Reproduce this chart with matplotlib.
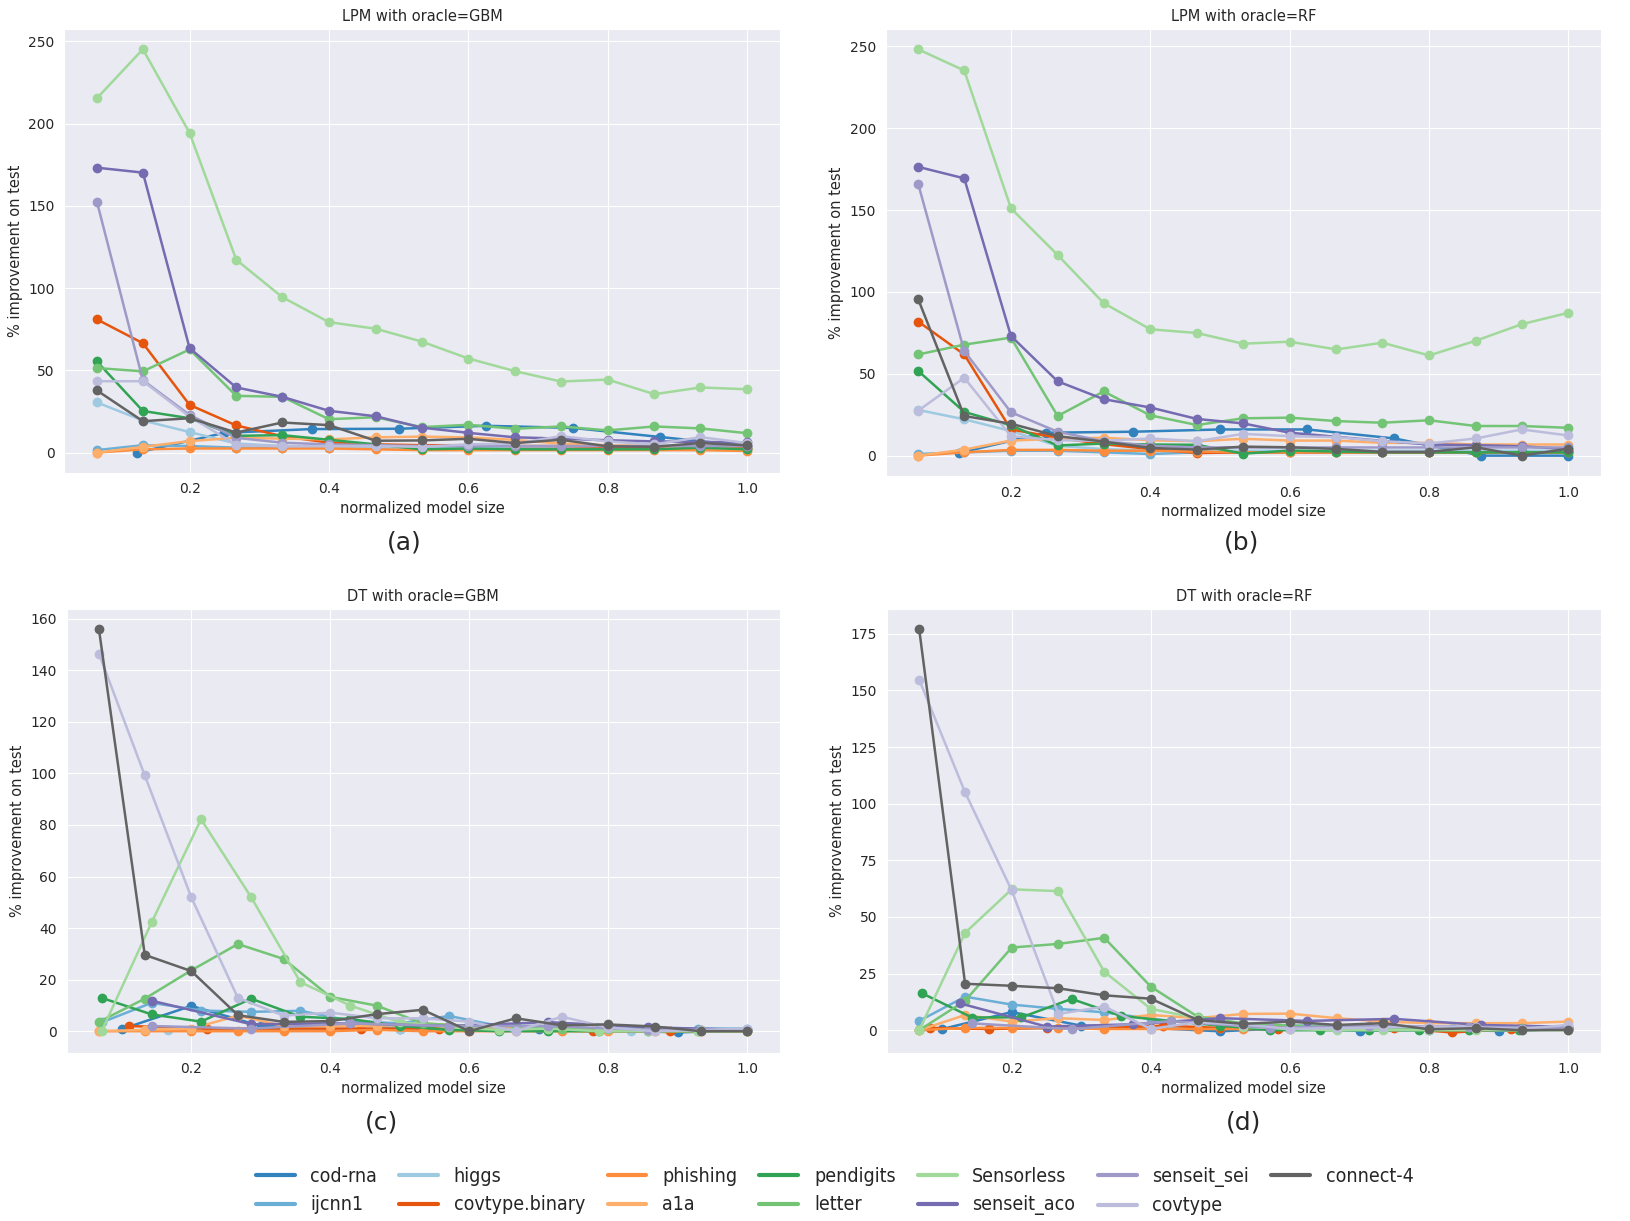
import matplotlib
matplotlib.use('Agg')
import matplotlib.pyplot as plt
from matplotlib.lines import Line2D
import seaborn as sns

sns.set_style('darkgrid')
plt.rcParams['font.family'] = ['DejaVu Sans']

# x grids (normalized model size) used by the different datasets
X15 = [0.067, 0.133, 0.2, 0.267, 0.333, 0.4, 0.467, 0.533, 0.6, 0.667, 0.733, 0.8, 0.867, 0.933, 1.0]
X14 = [0.071, 0.143, 0.214, 0.286, 0.357, 0.429, 0.5, 0.571, 0.643, 0.714, 0.786, 0.857, 0.929, 1.0]
X12 = [0.083, 0.167, 0.25, 0.333, 0.417, 0.5, 0.583, 0.667, 0.75, 0.833, 0.917, 1.0]
X10 = [0.1, 0.2, 0.3, 0.4, 0.5, 0.6, 0.7, 0.8, 0.9, 1.0]
X9 = [0.111, 0.222, 0.333, 0.444, 0.556, 0.667, 0.778, 0.889, 1.0]
X8 = [0.125, 0.25, 0.375, 0.5, 0.625, 0.75, 0.875, 1.0]
X7 = [0.143, 0.286, 0.429, 0.571, 0.714, 0.857, 1.0]
X6 = [0.167, 0.333, 0.5, 0.667, 0.833, 1.0]

DATASETS = ['cod-rna', 'ijcnn1', 'higgs', 'covtype.binary', 'phishing', 'a1a', 'pendigits',
            'letter', 'Sensorless', 'senseit_aco', 'senseit_sei', 'covtype', 'connect-4']
COLORS = ['#3182bd', '#6baed6', '#9ecae1', '#e6550d', '#fd8d3c', '#fdae6b', '#31a354',
          '#74c476', '#a1d99b', '#756bb1', '#9e9ac8', '#bcbddc', '#636363']

# (a) LPM with oracle=GBM
LPM_GBM = {
    'cod-rna': (X8, [0.0, 12, 14.3, 14.5, 16.3, 15, 9.5, 4]),
    'ijcnn1': (X15, [1.5, 4.5, 4, 3, 3, 3, 3, 3, 3, 3, 3, 3, 2.5, 2.5, 2.5]),
    'higgs': (X15, [30.5, 19.5, 12.5, 5.5, 4, 3.5, 3, 3, 3, 3, 3, 3, 3, 3, 3]),
    'covtype.binary': (X15, [81, 66.5, 29, 16.5, 10, 6, 5, 4.5, 4.5, 4, 4, 3.5, 3, 3, 3]),
    'phishing': (X15, [0, 2, 2.5, 2.5, 2.5, 2.5, 2, 1.5, 1.5, 1.5, 1.5, 1.5, 1.5, 1.5, 1]),
    'a1a': (X15, [0, 3.5, 7, 9, 8.5, 8, 9.3, 9.7, 9.3, 7.7, 5.5, 4.5, 4, 3, 2]),
    'pendigits': (X15, [55.4, 25.3, 20.9, 10.2, 10.6, 7.8, 5, 2, 2.5, 2, 2, 2, 2, 3, 2]),
    'letter': (X15, [51.4, 49.4, 62.7, 34.5, 33.9, 20.3, 21.5, 15.5, 16.9, 14.5, 15.9, 13.5, 15.9, 14.7, 11.8]),
    'Sensorless': (X15, [215.4, 245.2, 194.3, 117.2, 94.5, 79.3, 75.3, 67.5, 57.2, 49.5, 43.2, 44.4, 35.5, 39.6, 38.5]),
    'senseit_aco': (X15, [173.2, 170.2, 63.5, 39.6, 33.9, 25.4, 22.1, 15.2, 12.0, 9.3, 8.5, 7.5, 6.8, 6.5, 6.2]),
    'senseit_sei': (X15, [152.5, 44, 22.9, 9, 6, 5, 4.5, 4, 4, 4, 4, 4, 4, 4, 4]),
    'covtype': (X15, [43.4, 43.4, 21.9, 4.8, 3.8, 4, 4, 3.5, 5, 5.5, 10, 6.8, 5, 9.4, 5.8]),
    'connect-4': (X15, [37.8, 19.1, 20.9, 12.2, 18.3, 16.7, 7.2, 7.4, 8.4, 5.8, 7.8, 3.8, 3.6, 5.8, 4.4]),
}

# (b) LPM with oracle=RF
LPM_RF = {
    'cod-rna': (X8, [1.6, 14, 14.6, 16, 16, 10.5, 0, 0]),
    'ijcnn1': (X15, [1, 2, 3, 3, 2, 1, 2, 2, 2, 2, 2, 2, 2, 2, 2]),
    'higgs': (X15, [27.9, 22.2, 15, 6, 4, 3, 3, 3, 3, 3, 3, 3, 3, 3, 3]),
    'covtype.binary': (X15, [81.9, 61.8, 16, 10.9, 7, 4, 1.6, 2, 2, 2, 2, 2, 2, 2, 2]),
    'phishing': (X15, [0, 2, 3.5, 3.5, 3, 3, 2.5, 2, 2, 2, 2, 2, 2, 2, 2]),
    'a1a': (X15, [0, 3.7, 9.2, 10.3, 10.9, 9.4, 8.8, 10.3, 9.2, 9.2, 7.8, 7.8, 6.8, 6.8, 6.8]),
    'pendigits': (X15, [51.7, 26.7, 18.5, 6.2, 7.4, 6.8, 6.6, 1.2, 3.1, 2.5, 2, 2, 2, 2, 2]),
    'letter': (X15, [61.8, 67.8, 72.1, 24.2, 39.2, 24.6, 18.7, 22.8, 23.2, 21.1, 20.1, 21.6, 18.1, 18.1, 17.0]),
    'Sensorless': (X15, [248.2, 235.3, 151.1, 122.6, 93.2, 77.2, 74.9, 68.4, 69.6, 64.9, 69.0, 61.2, 70.2, 80.3, 87.3]),
    'senseit_aco': (X15, [176.4, 169.4, 73.1, 45.4, 34.5, 29.4, 22.4, 19.7, 14, 11.5, 9, 6.8, 6.4, 5.7, 4]),
    'senseit_sei': (X15, [165.9, 63.9, 26.5, 14.6, 8.8, 6, 5, 5, 5, 5, 5, 5, 5, 5, 5]),
    'covtype': (X15, [27.5, 47.6, 11.9, 9.4, 9, 10.5, 8.8, 13.3, 11.9, 11.3, 8.8, 7.4, 10.5, 16, 12.3]),
    'connect-4': (X15, [95.5, 24.2, 19.5, 11.9, 8.6, 4.7, 3.7, 5.5, 5.1, 4.1, 2.3, 2.3, 5.1, 0, 4.3]),
}

# (c) DT with oracle=GBM
DT_GBM = {
    'cod-rna': (X10, [0.8, 9.8, 2, 3, 1, 2, 1, 0.5, -0.5, 0.5]),
    'ijcnn1': (X14, [3.4, 11, 8, 7.5, 7.9, 4, 3, 5.9, 2, 2, 1, 1, 1, 1]),
    'higgs': (X6, [0.5, 1, 1, 1, 0, 0.5]),
    'covtype.binary': (X9, [2, 1, 1, 1, 1, 0.5, 0, 0, 0]),
    'phishing': (X15, [0, 0, 0, 0, 0, 0, 0.5, 0, 0, 0, 0, 0, 0, 0, 0]),
    'a1a': (X15, [0, 0.5, 1, 6, 2, 2, 2, 3, 2, 1, 1, 0.5, 0.5, 0.5, 0.5]),
    'pendigits': (X14, [12.9, 6.5, 3.7, 12.6, 5.6, 4.7, 2, 0.5, 0, 0, 0, 0, 0, 0]),
    'letter': (X15, [3.6, 12.6, 23.6, 33.8, 28, 13.3, 9.9, 3, 2, 2, 1, 1, 0.5, 0.5, 0.5]),
    'Sensorless': (X14, [0, 42.3, 82.2, 52, 19, 9.9, 3.5, 1.5, 0.5, 1, 0, 0, 0, 0]),
    'senseit_aco': (X7, [11.8, 2.7, 3, 2, 3.5, 1.5, 0.5]),
    'senseit_sei': (X7, [2, 1, 3, 2, 2, 0.5, 0.5]),
    'covtype': (X15, [146.5, 99.2, 51.9, 12.9, 6, 7.2, 5, 5, 3.7, 0, 5.6, 1.4, 0, 0.5, 1]),
    'connect-4': (X15, [156, 29.6, 23.3, 6.2, 3.6, 3.9, 6.6, 8.3, 0, 5.0, 2.3, 2.6, 1.8, 0, 0]),
}

# (d) DT with oracle=RF
DT_RF = {
    'cod-rna': (X10, [0.5, 8, 2, 1, -0.5, 1, -0.3, 0, -0.3, 0.5]),
    'ijcnn1': (X15, [4.1, 14.8, 11.3, 9.4, 7.9, 5, 3, 3, 2, 2, 1, 1, 1, 1, 1]),
    'higgs': (X6, [1, 1, 1, 1, 1, 1]),
    'covtype.binary': (X12, [1, 0.5, 1, 1, 2, 1, 0.5, 1, 1, -1, 0.5, 0.5]),
    'phishing': (X15, [0, 1, 1, 1, 0.5, 0.5, 0.5, 0.5, 0.5, 0.5, 0.5, 0.5, 0.5, 0.5, 0.5]),
    'a1a': (X15, [0, 6.7, 3.8, 5.3, 4.5, 6.7, 5.3, 7.2, 7.3, 5.3, 3.8, 3.1, 3.1, 3.1, 3.8]),
    'pendigits': (X14, [16.3, 5.6, 5.7, 13.8, 6.3, 4, 2, 0, 0, 0, 0, 0, 0, 0.5]),
    'letter': (X15, [0, 13, 36.5, 38.1, 40.8, 19.2, 6, 3, 2, 1.5, 1, 1, 1, 1, 1]),
    'Sensorless': (X15, [0, 43, 62.2, 61.4, 25.8, 9.4, 5.3, 1.5, 0.5, 0, 0, 0, 0, 0, 0]),
    'senseit_aco': (X8, [11.9, 1.6, 2.6, 5.3, 4.1, 5.0, 2.3, 1.5]),
    'senseit_sei': (X7, [3, 0.5, 4, 1, 2, 1.5, 1]),
    'covtype': (X15, [154.8, 105, 61.7, 7.2, 10.4, 0.6, 3.5, 2.5, 0.6, 0.9, 1.2, 1.6, 1.2, 0.6, 2.3]),
    'connect-4': (X15, [177.1, 20.5, 19.6, 18.5, 15.4, 13.9, 4.5, 2.8, 3.8, 2.3, 3.1, 0.4, 0.9, 0, 0.1]),
}

PANELS = [
    (LPM_GBM, 'LPM with oracle=GBM', '(a)', [0.0395, 0.6128, 0.4388, 0.3634], (0.248, 0.556)),
    (LPM_RF, 'LPM with oracle=RF', '(b)', [0.5434, 0.6102, 0.4388, 0.3660], (0.762, 0.556)),
    (DT_GBM, 'DT with oracle=GBM', '(c)', [0.0408, 0.1379, 0.4375, 0.3634], (0.234, 0.081)),
    (DT_RF, 'DT with oracle=RF', '(d)', [0.5440, 0.1379, 0.4381, 0.3634], (0.763, 0.081)),
]

fig = plt.figure(figsize=(16.3, 12.21), dpi=100)
for data, title, tag, rect, tag_pos in PANELS:
    ax = fig.add_axes(rect)
    for name, color in zip(DATASETS, COLORS):
        xs, ys = data[name]
        ax.plot(xs, ys, color=color, lw=1.8, marker='o', ms=6, label=name)
    ax.set_title(title, fontsize=10.5)
    ax.set_xlabel('normalized model size', fontsize=10.5, labelpad=3)
    ax.set_ylabel('% improvement on test', fontsize=10.5)
    ax.tick_params(labelsize=10)
    fig.text(tag_pos[0], tag_pos[1], tag, fontsize=18, ha='center', va='center')

handles = [Line2D([], [], color=c, lw=3) for c in COLORS]
fig.legend(handles, DATASETS, loc='center', bbox_to_anchor=(0.512, 0.0245), ncol=7,
           frameon=False, prop={'family': 'DejaVu Sans', 'stretch': 'condensed', 'size': 14},
           handlelength=2.0, handletextpad=0.8, columnspacing=1.15, labelspacing=0.5)

fig.savefig('out.png', dpi=100)
